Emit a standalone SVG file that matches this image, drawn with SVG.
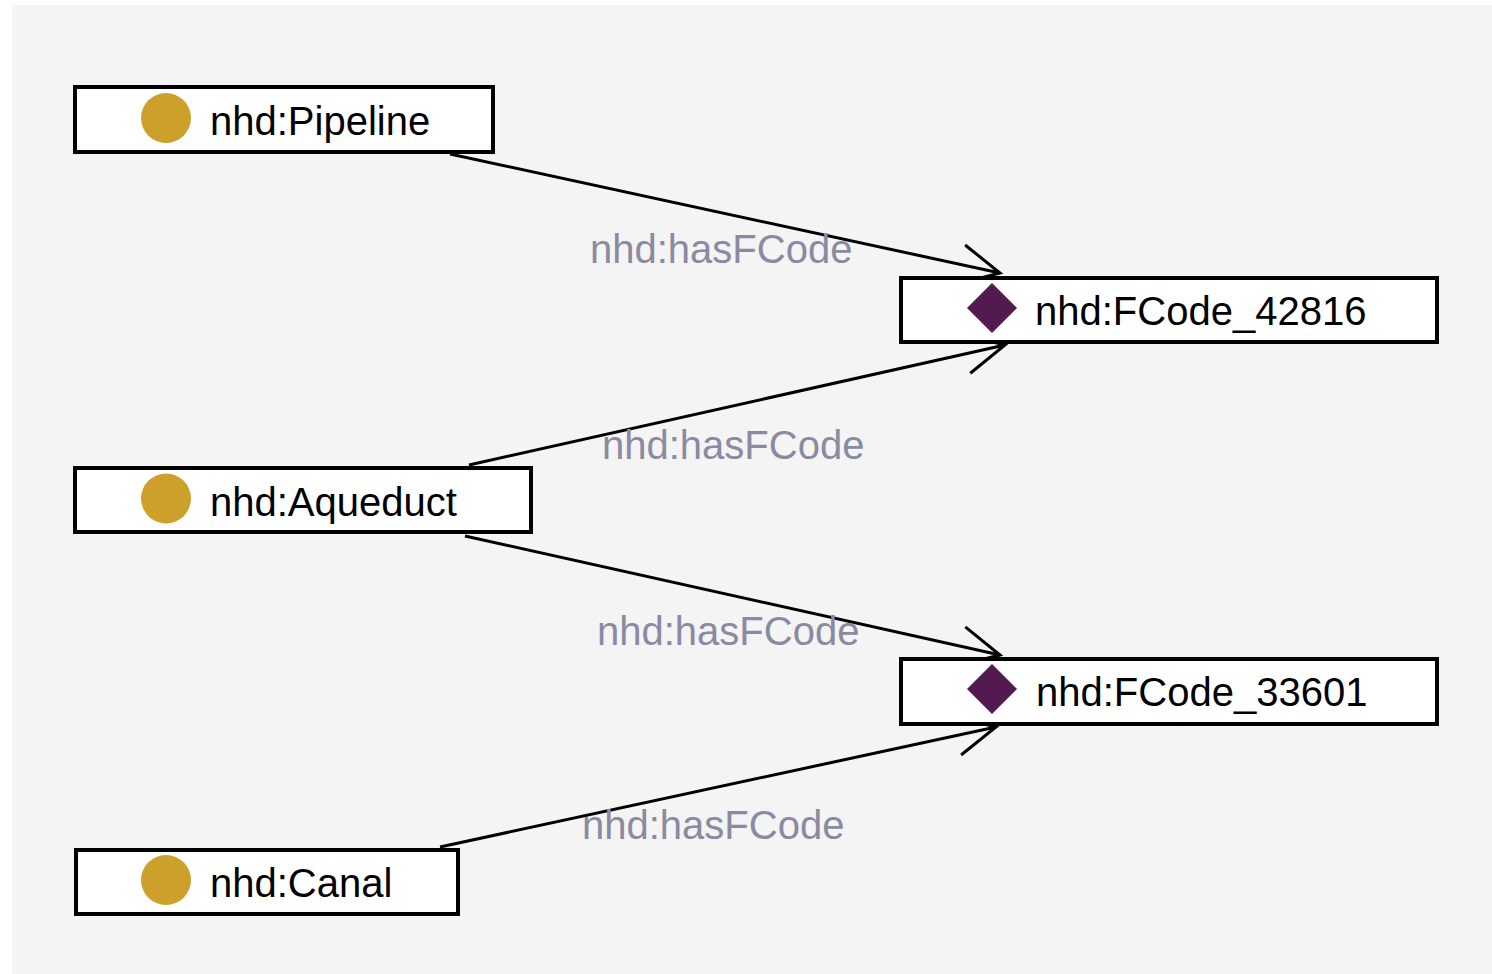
<svg xmlns="http://www.w3.org/2000/svg" width="1492" height="974" viewBox="0 0 1492 974">
<style>
.box{fill:#ffffff;stroke:#000000;stroke-width:4}
.cls{fill:#cda02c}
.ind{fill:#521a50}
.name{font-family:"Liberation Sans",Arial,sans-serif;font-size:40px;fill:#000000}
.lbl{font-family:"Liberation Sans",Arial,sans-serif;font-size:40px;fill:#8a8aa2}
.edge{fill:none;stroke:#000000;stroke-width:3}
</style>
<defs>
<marker id="arr" markerUnits="userSpaceOnUse" markerWidth="100" markerHeight="100" refX="0" refY="0" orient="auto" viewBox="-50 -50 100 100" overflow="visible">
<polyline points="-40,-20 0,0 -40,20" fill="none" stroke="#000000" stroke-width="3"/>
</marker>
</defs>
<rect x="0" y="0" width="1492" height="974" fill="#ffffff"/>
<rect x="12" y="5" width="1480" height="969" fill="#f4f4f4"/>
<g id="connectors">
<line class="edge" x1="450" y1="154" x2="1000" y2="273" marker-end="url(#arr)"/>
<line class="edge" x1="469" y1="465" x2="1005" y2="345" marker-end="url(#arr)"/>
<line class="edge" x1="465" y1="536" x2="1000" y2="655" marker-end="url(#arr)"/>
<line class="edge" x1="440" y1="847" x2="996" y2="727" marker-end="url(#arr)"/>
<text class="lbl" x="590" y="263">nhd:hasFCode</text>
<text class="lbl" x="602" y="459">nhd:hasFCode</text>
<text class="lbl" x="597" y="645">nhd:hasFCode</text>
<text class="lbl" x="582" y="839">nhd:hasFCode</text>
</g>
<g id="node-pipeline">
<rect class="box" x="75" y="87" width="418" height="65"/>
<circle class="cls" cx="166" cy="118" r="25"/>
<text class="name" x="210" y="135">nhd:Pipeline</text>
</g>
<g id="node-aqueduct">
<rect class="box" x="75" y="468" width="456" height="64"/>
<circle class="cls" cx="166" cy="498.5" r="25"/>
<text class="name" x="210" y="516">nhd:Aqueduct</text>
</g>
<g id="node-canal">
<rect class="box" x="76" y="850" width="382" height="64"/>
<circle class="cls" cx="166" cy="880" r="25"/>
<text class="name" x="210" y="897">nhd:Canal</text>
</g>
<g id="node-fcode-42816">
<rect class="box" x="901" y="278" width="536" height="64"/>
<polygon class="ind" points="992,283 1017,308 992,333 967,308"/>
<text class="name" x="1035" y="325">nhd:FCode_42816</text>
</g>
<g id="node-fcode-33601">
<rect class="box" x="901" y="659" width="536" height="65"/>
<polygon class="ind" points="992,664 1017,689 992,714 967,689"/>
<text class="name" x="1036" y="706">nhd:FCode_33601</text>
</g>
</svg>
